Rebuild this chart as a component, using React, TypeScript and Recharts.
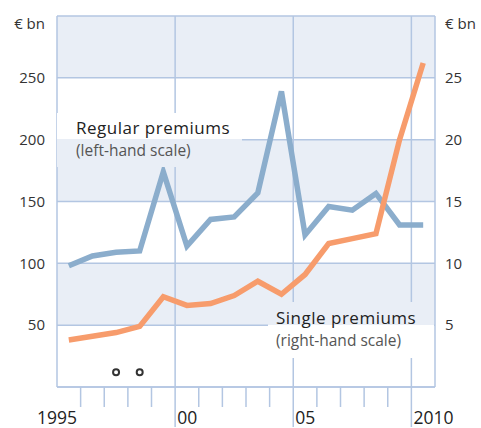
import React from 'react';
import {
  ComposedChart,
  Line,
  Scatter,
  XAxis,
  YAxis,
  CartesianGrid
} from 'recharts';

// Years, plotted at mid-year
const years = [1995, 1996, 1997, 1998, 1999, 2000, 2001, 2002, 2003, 2004, 2005, 2006, 2007, 2008, 2009, 2010];
// Regular premiums, € bn (left-hand scale)
const regularPremiums = [98, 106, 109, 110, 174, 114, 135.5, 137.5, 157, 239, 123, 146, 143, 156.5, 131, 131];
// Single premiums, € bn (right-hand scale)
const singlePremiums = [3.8, 4.1, 4.4, 4.9, 7.3, 6.6, 6.75, 7.4, 8.55, 7.5, 9.1, 11.6, 12.0, 12.4, 20.0, 26.2];
// small "o" markers near the bottom
const markerYears = [1997, 1998];
const markerLevel = 12;

const xTicks = [1995, 1996, 1997, 1998, 1999, 2000, 2001, 2002, 2003, 2004, 2005, 2006, 2007, 2008, 2009, 2010];
const xLabels: Record<number, string> = { 1995: '1995', 2000: '00', 2005: '05', 2010: '2010' };
const leftTicks = [0, 50, 100, 150, 200, 250, 300];
const rightTicks = [0, 5, 10, 15, 20, 25, 30];
const majorYears = [2000, 2005, 2010];

const BLUE = '#8badcc';
const ORANGE = '#f79c6c';
const GRID = '#b3c6e2';
const SHADE = '#e9eef6';
const FONT = '"Open Sans", sans-serif';

const chartData = years.map((y, i) => ({
  year: y + 0.5,
  regular: regularPremiums[i],
  single: singlePremiums[i]
}));
const markerData = markerYears.map((y) => ({ year: y + 0.5, mark: markerLevel }));

const XTick = (props: any) => {
  const { x, y, payload } = props;
  const v = payload.value;
  const label = xLabels[v];
  const major = majorYears.includes(v);
  return (
    <g>
      {v !== 1995 && (
        <line x1={x} x2={x} y1={y} y2={major ? y + 40 : y + 20} stroke={GRID} strokeWidth={1.5} />
      )}
      {label && (
        <text
          x={v === 1995 ? x : x + 2}
          y={y + 36.5}
          textAnchor={v === 1995 ? 'middle' : 'start'}
          fontSize={17.5}
          fontFamily={FONT}
          fill="#222"
        >
          {label}
        </text>
      )}
    </g>
  );
};

const makeYTick = (anchor: 'start' | 'end', top: number, bottom: number) => (props: any) => {
  const { x, y, payload } = props;
  const v = payload.value;
  if (v === bottom) return <g />;
  const isTop = v === top;
  return (
    <text
      x={x}
      y={isTop ? y + 8 : y}
      dy="0.35em"
      textAnchor={anchor}
      fontSize={15}
      fontFamily={FONT}
      fill="#333"
    >
      {isTop ? '€ bn' : v}
    </text>
  );
};

const Marker = (props: any) => (
  <circle cx={props.cx} cy={props.cy} r={3} fill="#fff" stroke="#333" strokeWidth={2} />
);

const boxText: React.CSSProperties = {
  position: 'absolute',
  fontFamily: FONT,
  lineHeight: '23px',
  whiteSpace: 'nowrap'
};

export default function App() {
  return (
    <div style={{ position: 'absolute', left: 0, top: 0, width: 481, height: 428, background: '#fff' }}>
      <ComposedChart
        width={481}
        height={428}
        data={chartData}
        margin={{ top: 16, right: 0, bottom: 0, left: 0 }}
      >
        <CartesianGrid
          stroke={GRID}
          strokeWidth={1.5}
          horizontalFill={[SHADE, '#ffffff']}
          verticalValues={majorYears}
          yAxisId="left"
        />
        <XAxis
          dataKey="year"
          type="number"
          domain={[1995, 2011]}
          ticks={xTicks}
          interval={0}
          height={41}
          tickLine={false}
          tickSize={0}
          tickMargin={0}
          axisLine={{ stroke: GRID, strokeWidth: 1.5 }}
          tick={<XTick />}
          allowDataOverflow
        />
        <YAxis
          yAxisId="left"
          orientation="left"
          domain={[0, 300]}
          ticks={leftTicks}
          interval={0}
          width={57}
          tickLine={false}
          tickSize={0}
          tickMargin={12}
          axisLine={{ stroke: GRID, strokeWidth: 1.5 }}
          tick={makeYTick('end', 300, 0)}
        />
        <YAxis
          yAxisId="right"
          orientation="right"
          domain={[0, 30]}
          ticks={rightTicks}
          interval={0}
          width={46}
          tickLine={false}
          tickSize={0}
          tickMargin={10}
          axisLine={{ stroke: GRID, strokeWidth: 1.5 }}
          tick={makeYTick('start', 30, 0)}
        />
        <Line
          yAxisId="left"
          dataKey="regular"
          stroke={BLUE}
          strokeWidth={5.5}
          dot={false}
          activeDot={false}
          isAnimationActive={false}
        />
        <Line
          yAxisId="right"
          dataKey="single"
          stroke={ORANGE}
          strokeWidth={5.5}
          dot={false}
          activeDot={false}
          isAnimationActive={false}
        />
        <Scatter
          yAxisId="left"
          data={markerData}
          dataKey="mark"
          shape={<Marker />}
          isAnimationActive={false}
        />
      </ComposedChart>

      <div
        style={{
          ...boxText,
          left: 57,
          top: 113,
          width: 185,
          height: 54,
          background: `linear-gradient(to bottom, #fff 0px, #fff 26px, ${SHADE} 26px)`
        }}
      >
        <div style={{ position: 'absolute', left: 19, top: 3, fontSize: 17, color: '#222', letterSpacing: 0.5 }}>
          Regular premiums
        </div>
        <div style={{ position: 'absolute', left: 19, top: 26, fontSize: 15.5, color: '#555' }}>
          (left-hand scale)
        </div>
      </div>

      <div
        style={{
          ...boxText,
          left: 268,
          top: 302,
          width: 166,
          height: 56,
          background: `linear-gradient(to bottom, ${SHADE} 0px, ${SHADE} 23px, #fff 23px)`
        }}
      >
        <div style={{ position: 'absolute', left: 8, top: 4, fontSize: 17, color: '#222', letterSpacing: 0.5 }}>
          Single premiums
        </div>
        <div style={{ position: 'absolute', left: 8, top: 27, fontSize: 15.5, color: '#555' }}>
          (right-hand scale)
        </div>
      </div>
    </div>
  );
}
